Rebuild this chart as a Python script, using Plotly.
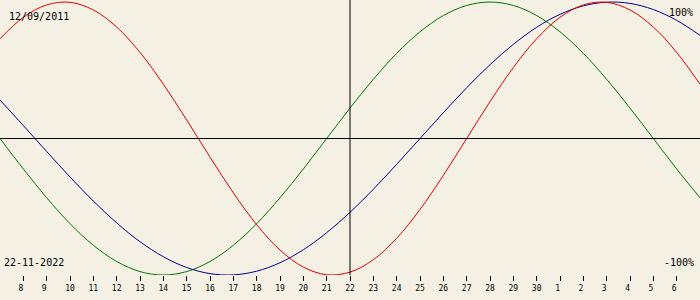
import plotly.graph_objects as go

dates = ["2022-11-07", "2022-11-08", "2022-11-09", "2022-11-10", "2022-11-11", "2022-11-12",
         "2022-11-13", "2022-11-14", "2022-11-15", "2022-11-16", "2022-11-17", "2022-11-18",
         "2022-11-19", "2022-11-20", "2022-11-21", "2022-11-22", "2022-11-23", "2022-11-24",
         "2022-11-25", "2022-11-26", "2022-11-27", "2022-11-28", "2022-11-29", "2022-11-30",
         "2022-12-01", "2022-12-02", "2022-12-03", "2022-12-04", "2022-12-05", "2022-12-06",
         "2022-12-07"]

physical = [73.1, 88.8, 97.9, 99.8, 94.2, 81.7, 63.1, 39.8, 13.6, -13.6, -39.8, -63.1,
            -81.7, -94.2, -99.8, -97.9, -88.8, -73.1, -52.0, -27.0, 0.0, 27.0, 52.0, 73.1,
            88.8, 97.9, 99.8, 94.2, 81.7, 63.1, 39.8]

emotional = [0.0, -22.3, -43.4, -62.4, -78.2, -90.1, -97.5, -100.0, -97.5, -90.1, -78.2, -62.4,
             -43.4, -22.3, 0.0, 22.3, 43.4, 62.4, 78.2, 90.1, 97.5, 100.0, 97.5, 90.1,
             78.2, 62.4, 43.4, 22.3, 0.0, -22.3, -43.4]

intellectual = [28.2, 9.5, -9.5, -28.2, -45.8, -61.8, -75.6, -86.6, -94.5, -99.0, -99.9, -97.2,
                -91.0, -81.5, -69.0, -54.1, -37.2, -18.9, 0.0, 18.9, 37.2, 54.1, 69.0, 81.5,
                91.0, 97.2, 99.9, 99.0, 94.5, 86.6, 75.6]

tick_dates = dates[1:30]
tick_labels = ["8", "9", "10", "11", "12", "13", "14", "15", "16", "17", "18", "19", "20",
               "21", "22", "23", "24", "25", "26", "27", "28", "29", "30", "1", "2", "3",
               "4", "5", "6"]

birth_label = "12/09/2011"
current_label = "22-11-2022"
current_date = "2022-11-22"

bg = "#F4F0E4"
mono = "DejaVu Sans Mono"

fig = go.Figure()
for vals, col in [(emotional, "#007800"), (intellectual, "#000090"), (physical, "#E00000")]:
    fig.add_trace(go.Scatter(x=dates, y=vals, mode="lines",
                             line=dict(color=col, width=1, shape="spline", smoothing=1.0),
                             hoverinfo="skip", showlegend=False))

fig.add_shape(type="line", xref="paper", yref="y", x0=0, x1=1, y0=0, y1=0,
              line=dict(color="black", width=1))
fig.add_shape(type="line", xref="x", yref="paper", x0=current_date, x1=current_date, y0=0, y1=1,
              line=dict(color="black", width=1))

ticktext = [t if len(t) == 2 else t + "\u00a0" for t in tick_labels]

fig.update_layout(
    width=700, height=300,
    margin=dict(l=0, r=0, t=0, b=25),
    paper_bgcolor=bg, plot_bgcolor=bg,
    xaxis=dict(type="date", range=["2022-11-07 00:00", "2022-12-07 00:00"],
               tickmode="array", tickvals=tick_dates, ticktext=ticktext,
               ticks="outside", ticklen=5, tickwidth=1, tickcolor="black",
               showgrid=False, zeroline=False, showline=False,
               tickfont=dict(family=mono, size=8, color="black")),
    yaxis=dict(range=[-100, 101.5], visible=False, showgrid=False, zeroline=False),
    annotations=[
        dict(text=birth_label, xref="paper", yref="paper", x=0, y=1, xanchor="left", yanchor="top",
             xshift=7, yshift=-9, showarrow=False, font=dict(family=mono, size=10, color="black")),
        dict(text="100%", xref="paper", yref="paper", x=1, y=1, xanchor="right", yanchor="top",
             xshift=-5, yshift=-5, showarrow=False, font=dict(family=mono, size=10, color="black")),
        dict(text=current_label, xref="paper", yref="paper", x=0, y=0, xanchor="left", yanchor="middle",
             xshift=2, yshift=13, showarrow=False, font=dict(family=mono, size=10, color="black")),
        dict(text="-100%", xref="paper", yref="paper", x=1, y=0, xanchor="right", yanchor="middle",
             xshift=-4, yshift=13, showarrow=False, font=dict(family=mono, size=10, color="black")),
    ],
)

fig.write_html("out.html")
